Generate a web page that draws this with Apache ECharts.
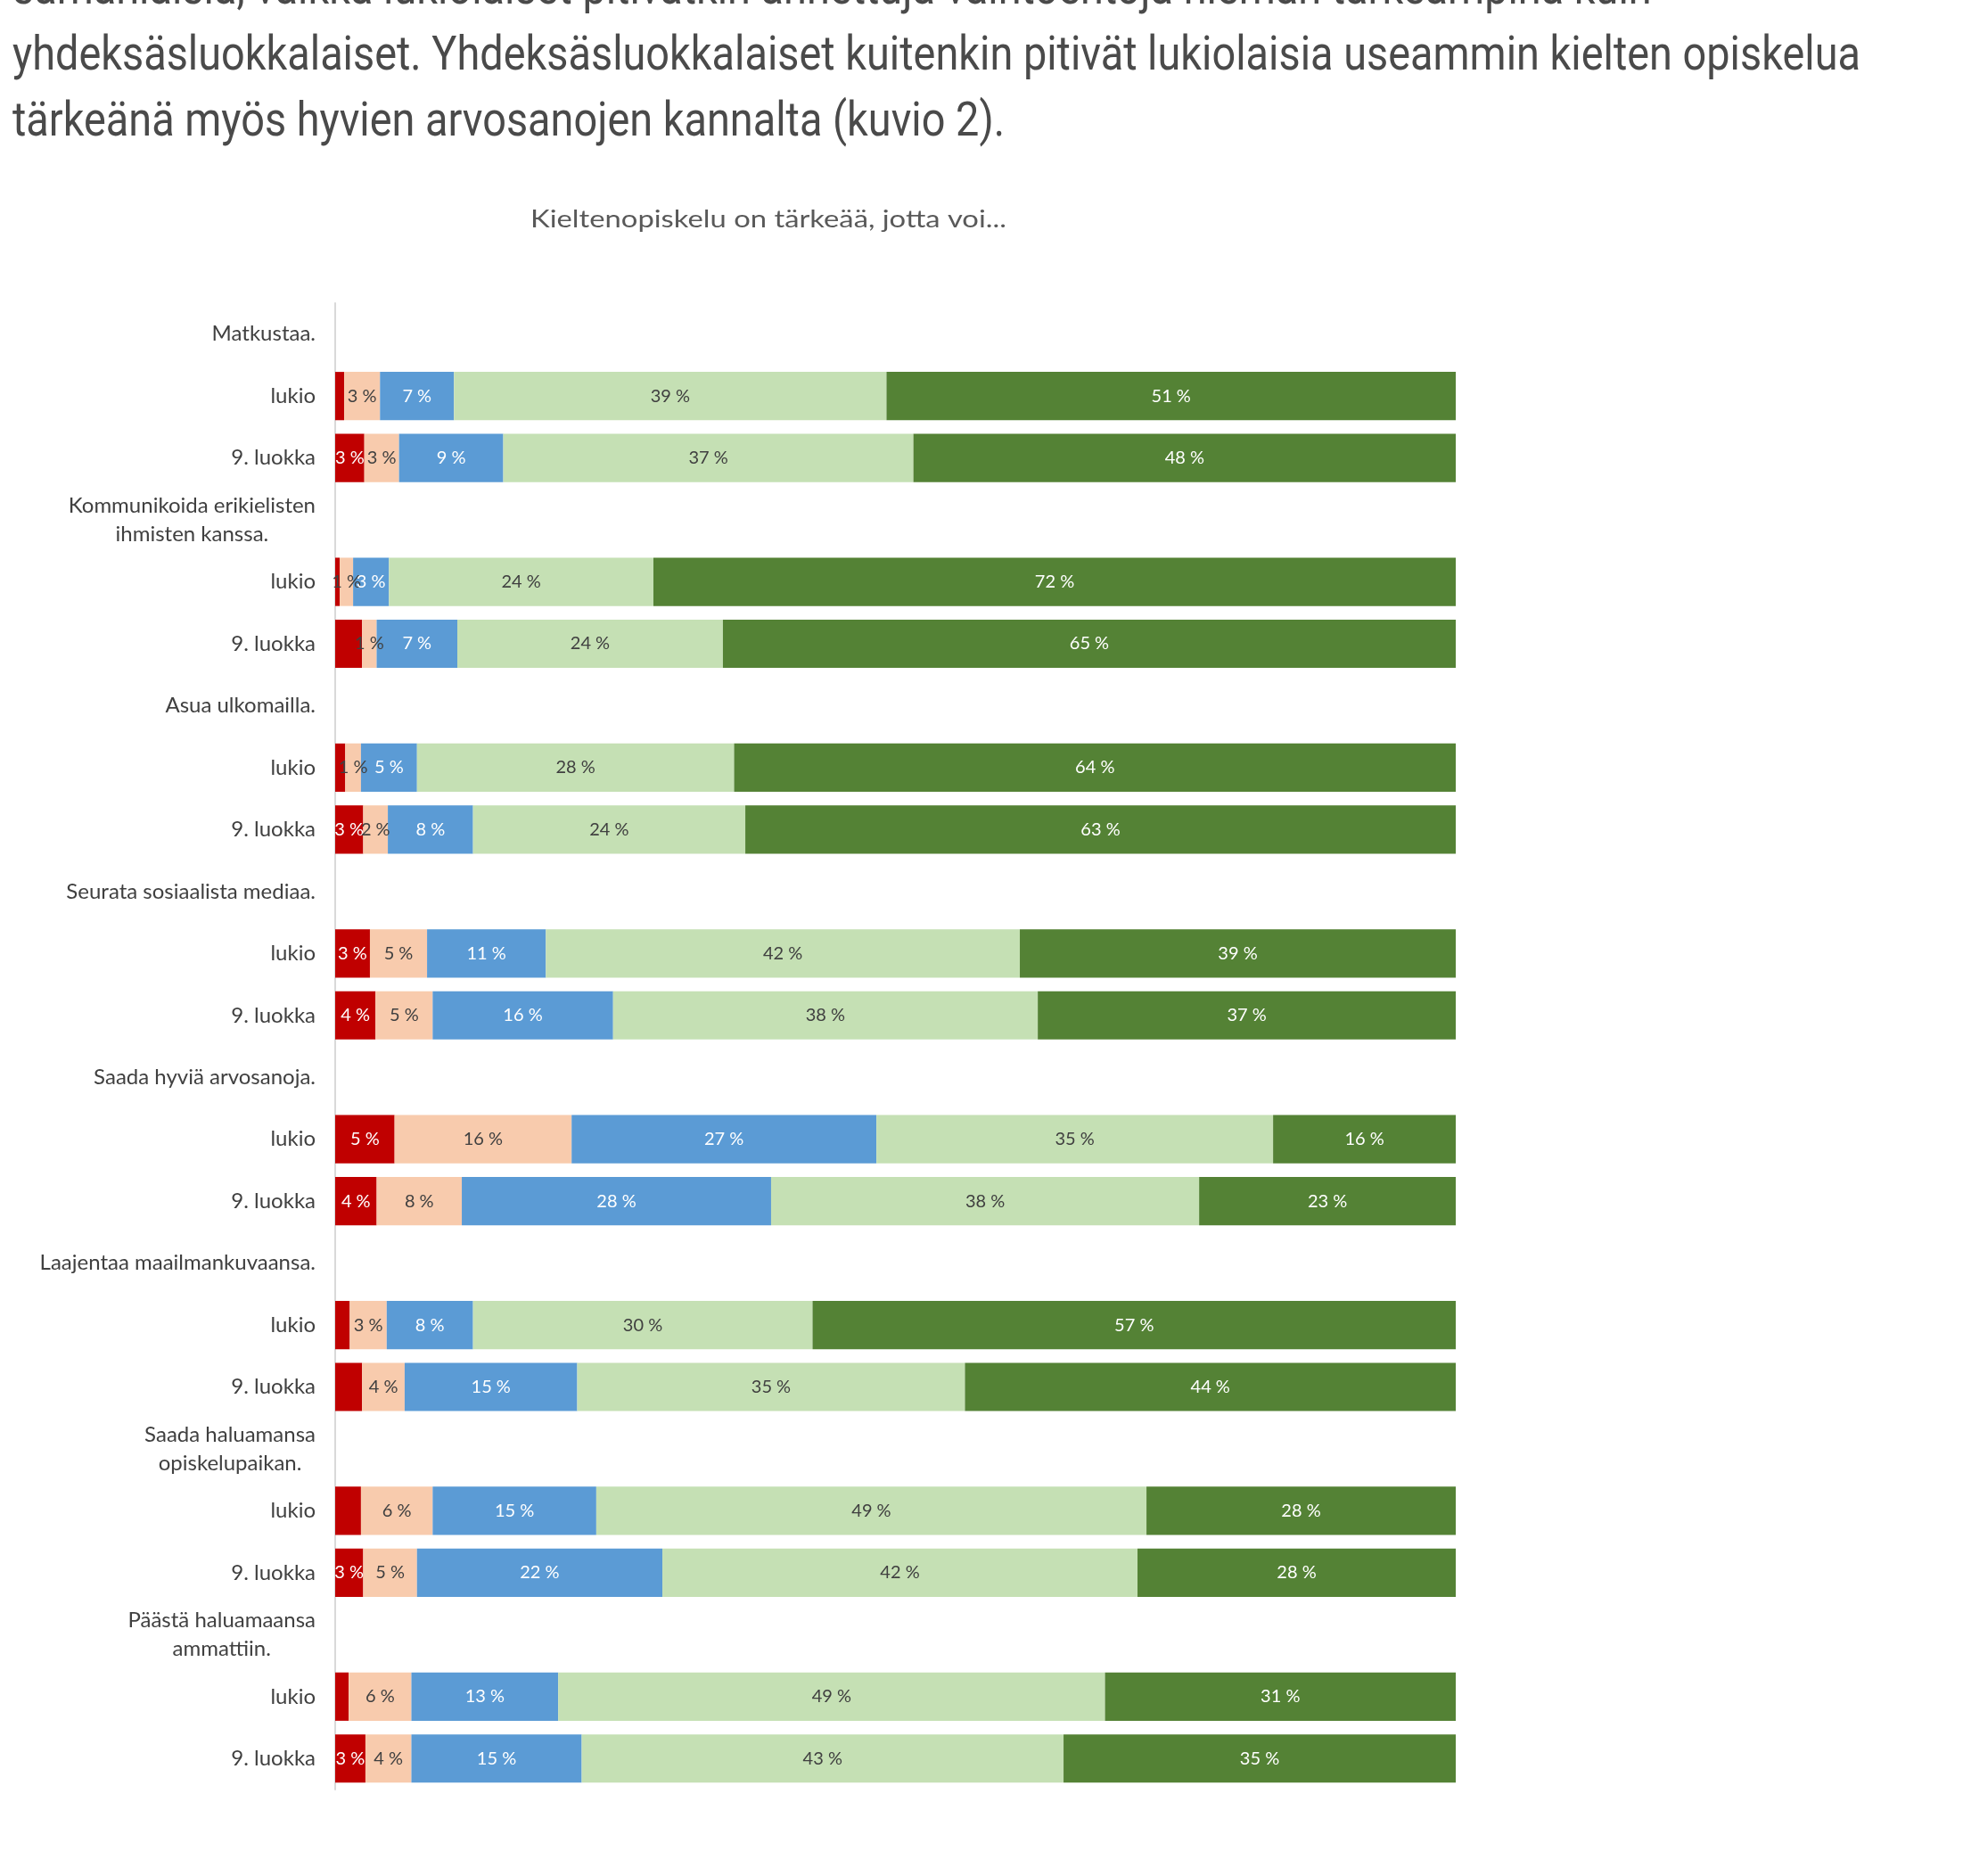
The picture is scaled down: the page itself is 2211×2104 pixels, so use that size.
<!DOCTYPE html>
<html>
<head>
<meta charset="utf-8">
<script src="https://cdn.jsdelivr.net/npm/echarts@6/dist/echarts.min.js"></script>
<style>
html,body{margin:0;padding:0;background:#fff;}
#chart{width:2211px;height:2104px;}
</style>
</head>
<body>
<div id="chart"></div>
<script>
// ---- Text above the chart ----
const paragraphLines = [
  'samanlaisia, vaikka lukiolaiset pitivätkin annettuja vaihtoehtoja hieman tärkeämpinä kuin',
  'yhdeksäsluokkalaiset. Yhdeksäsluokkalaiset kuitenkin pitivät lukiolaisia useammin kielten opiskelua',
  'tärkeänä myös hyvien arvosanojen kannalta (kuvio 2).'
];
const chartTitle = 'Kieltenopiskelu on tärkeää, jotta voi...';

// ---- Categories ----
const groups = [
  'Matkustaa.',
  'Kommunikoida erikielisten\nihmisten kanssa.',
  'Asua ulkomailla.',
  'Seurata sosiaalista mediaa.',
  'Saada hyviä arvosanoja.',
  'Laajentaa maailmankuvaansa.',
  'Saada haluamansa\nopiskelupaikan.',
  'Päästä haluamaansa\nammattiin.'
];
const subgroups = ['lukio', '9. luokka'];

// ---- Series (order: per group lukio, 9. luokka) ----
const seriesNames = ['Ei lainkaan tärkeää', 'Ei kovin tärkeää', 'En osaa sanoa', 'Melko tärkeää', 'Erittäin tärkeää'];
const eiLainkaan = [0.8, 2.6, 0.4, 2.4, 0.9, 2.5, 3.1, 3.6, 5.3, 3.7, 1.3, 2.4, 2.3, 2.5, 1.2, 2.7];
const eiKovin    = [3.2, 3.1, 1.2, 1.3, 1.4, 2.2, 5.1, 5.1, 15.8, 7.6, 3.3, 3.8, 6.4, 4.8, 5.6, 4.1];
const enOsaa     = [6.6, 9.3, 3.2, 7.2, 5.0, 7.6, 10.6, 16.1, 27.2, 27.6, 7.7, 15.4, 14.6, 21.9, 13.1, 15.2];
const melko      = [38.6, 36.6, 23.6, 23.7, 28.3, 24.3, 42.3, 37.9, 35.4, 38.2, 30.3, 34.6, 49.1, 42.4, 48.8, 43.0];
const erittain   = [50.8, 48.4, 71.6, 65.4, 64.4, 63.4, 38.9, 37.3, 16.3, 22.9, 57.4, 43.8, 27.6, 28.4, 31.3, 35.0];

// ---- Styles ----
const seriesColors = ['#C00000', '#F8CBAD', '#5B9BD5', '#C5E0B4', '#548235'];
const labelColors  = ['#ffffff', '#404040', '#ffffff', '#404040', '#ffffff'];
const labelMin     = [2.45, 1, 1, 1, 1];
const FONT = 'Lato, "Open Sans", sans-serif';

// ---- Build category axis (header row + 2 sub rows per group) ----
const catKeys = [];
const catLabels = [];
const isHeader = [];
groups.forEach((g, gi) => {
  catKeys.push('g' + gi); catLabels.push(g); isHeader.push(true);
  subgroups.forEach((s, si) => {
    catKeys.push('g' + gi + '_' + si); catLabels.push(s); isHeader.push(false);
  });
});

function expand(arr) {
  const out = [];
  groups.forEach((g, gi) => {
    out.push('-');
    subgroups.forEach((s, si) => out.push(arr[gi * subgroups.length + si]));
  });
  return out;
}

const valueArrays = [eiLainkaan, eiKovin, enOsaa, melko, erittain];
const series = valueArrays.map((arr, k) => ({
  name: seriesNames[k],
  type: 'bar',
  stack: 'total',
  barCategoryGap: '22%',
  data: expand(arr),
  itemStyle: { color: seriesColors[k] },
  label: {
    show: true,
    position: 'inside',
    color: labelColors[k],
    fontFamily: FONT,
    fontSize: 20,
    formatter: p => (typeof p.value === 'number' && p.value >= labelMin[k]) ? Math.round(p.value) + ' %' : ''
  },
  emphasis: { disabled: true }
}));

// ---- Measure text for horizontal fitting of the page text ----
const cv = document.createElement('canvas').getContext('2d');
function measure(txt, font) { cv.font = font; return cv.measureText(txt).width; }
const paraFont = '53px Roboto';
const paraScale = 2073 / measure(paragraphLines[1], paraFont);
const titleFont = '26px Lato';
const titleScale = 534 / measure(chartTitle, titleFont);

const paraY = [-9, 65, 139];
const graphics = paragraphLines.map((t, i) => ({
  type: 'text',
  x: 14,
  y: paraY[i],
  scaleX: paraScale,
  silent: true,
  style: {
    text: t,
    x: 0, y: 0,
    font: paraFont,
    fill: '#4a4a4a',
    textAlign: 'left',
    textVerticalAlign: 'middle'
  }
}));
graphics.push({
  type: 'text',
  x: 595,
  y: 247,
  scaleX: titleScale,
  silent: true,
  style: {
    text: chartTitle,
    x: 0, y: 0,
    font: titleFont,
    fill: '#595959',
    textAlign: 'left',
    textVerticalAlign: 'middle'
  }
});

const chart = echarts.init(document.getElementById('chart'), null, { renderer: 'canvas' });
chart.setOption({
  animation: false,
  backgroundColor: '#ffffff',
  graphic: graphics,
  grid: { left: 376, right: 578, top: 340, bottom: 97, containLabel: false },
  xAxis: {
    type: 'value', min: 0, max: 100, show: false
  },
  yAxis: {
    type: 'category',
    inverse: true,
    data: catKeys,
    axisLine: { show: true, lineStyle: { color: '#d9d9d9', width: 2 } },
    axisTick: { show: false },
    splitLine: { show: false },
    axisLabel: {
      interval: 0,
      margin: 22,
      fontFamily: FONT,
      fontSize: 24,
      color: '#404040',
      formatter: (v, idx) => {
        const i = catKeys.indexOf(v);
        if (isHeader[i]) {
          return catLabels[i].split('\n').map(l => '{c|' + l + '}').join('\n');
        }
        return catLabels[i];
      },
      rich: {
        c: { fontFamily: FONT, fontSize: 24, color: '#404040', lineHeight: 32, align: 'center' }
      }
    }
  },
  series: series
});
</script>
</body>
</html>
